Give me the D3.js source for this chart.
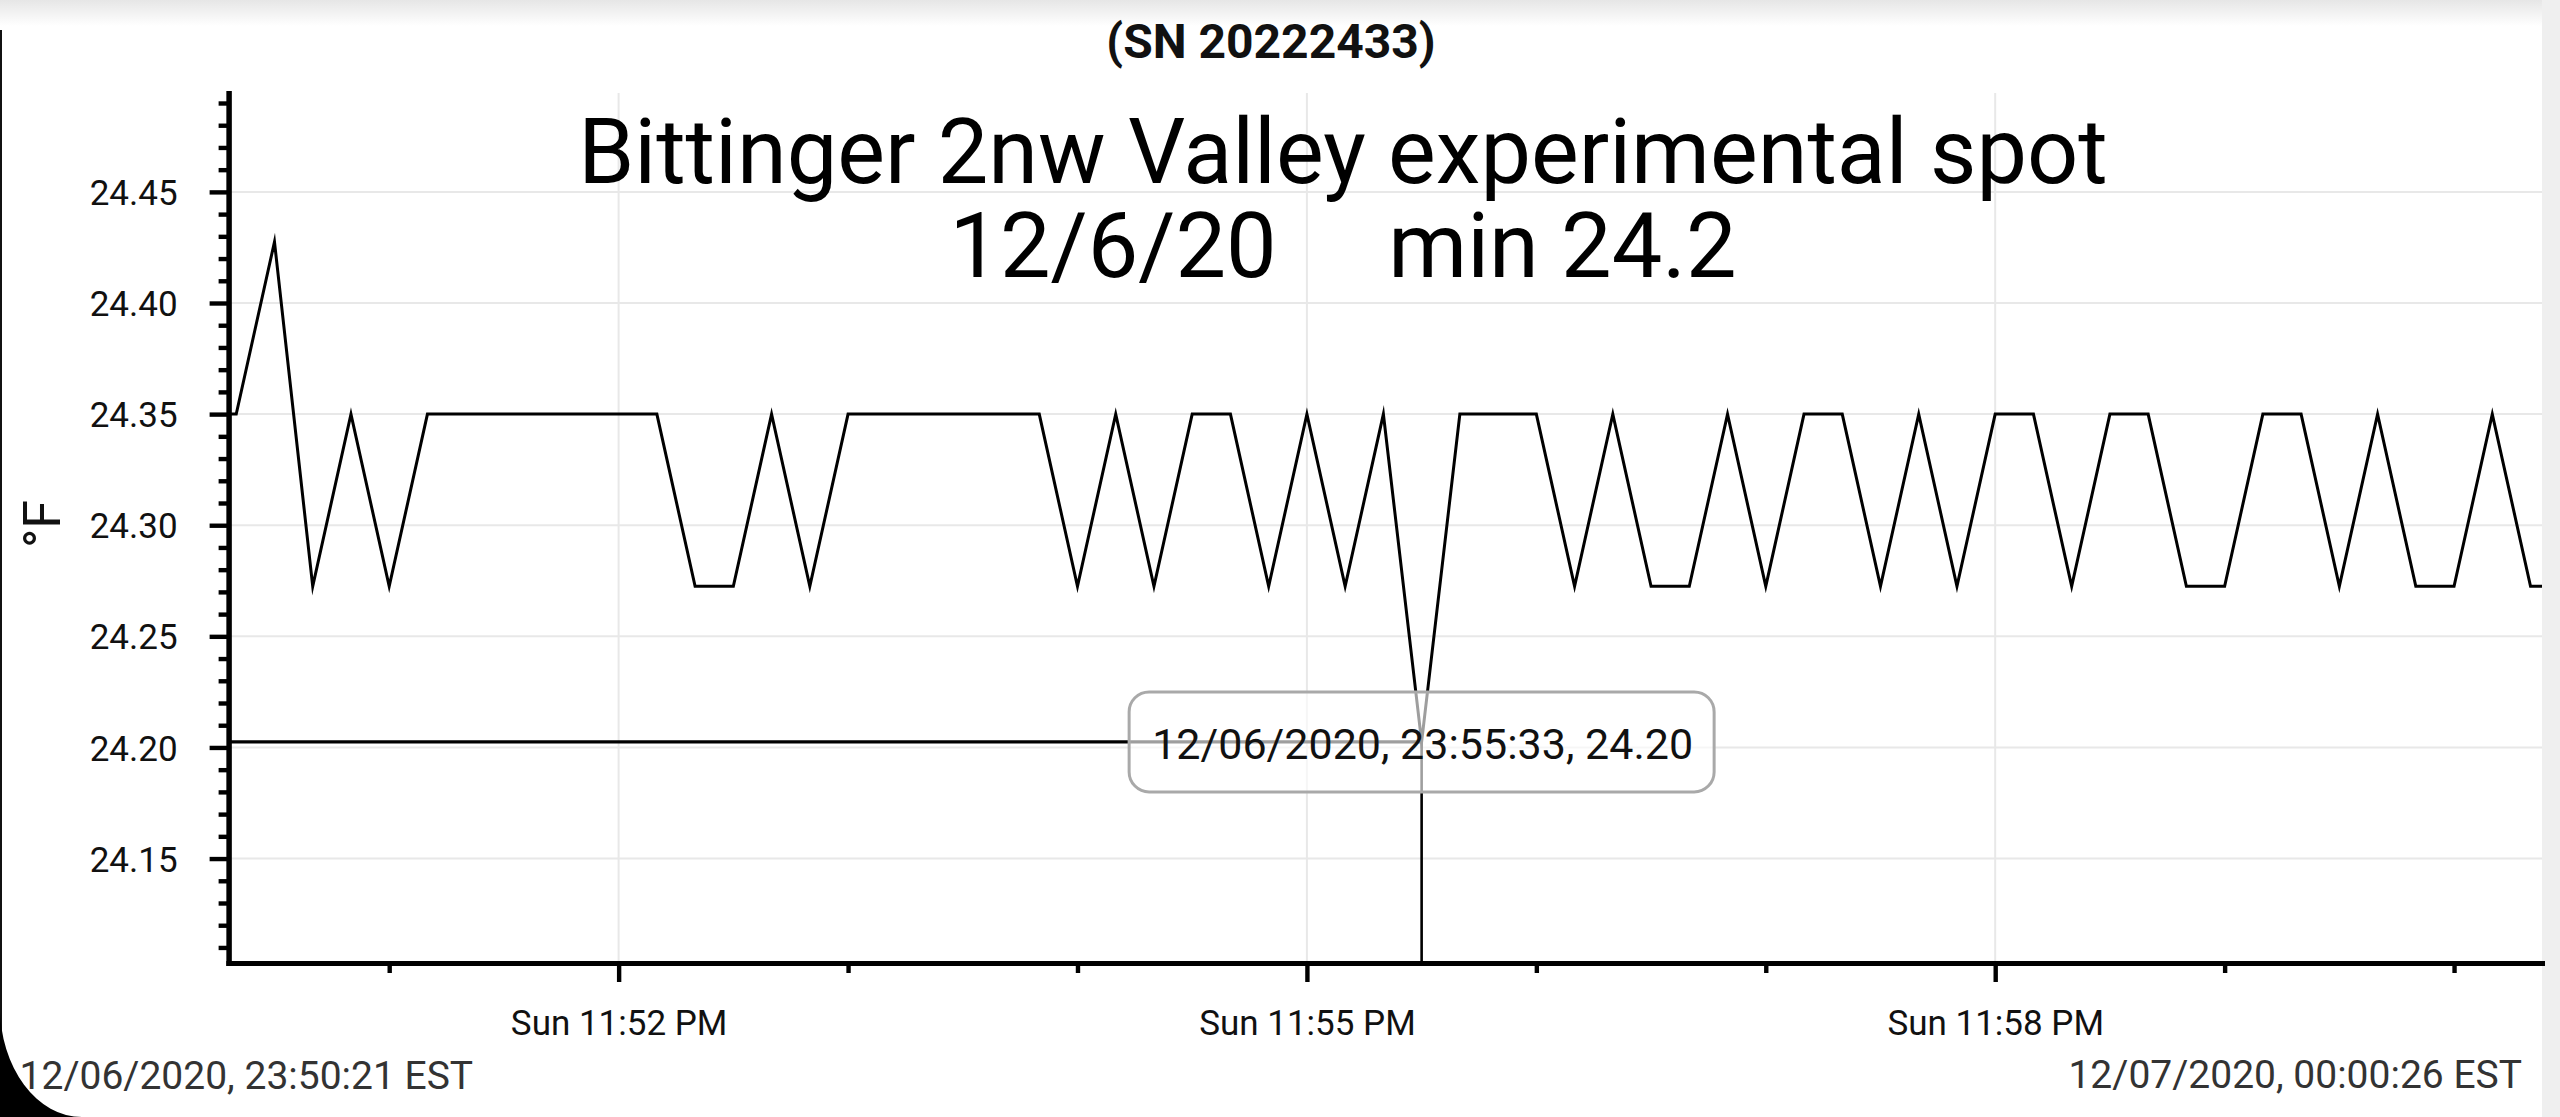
<!DOCTYPE html>
<html>
<head>
<meta charset="utf-8">
<script src="https://cdn.jsdelivr.net/npm/d3@7"></script>
<style>
  body { margin: 0; background: #fff; overflow: hidden; }
  text { font-family: Roboto, "Noto Sans", sans-serif; }
</style>
</head>
<body>
<svg id="chart" width="2560" height="1117"></svg>
<script>
// ---------------- data ----------------
const sampleTimes = [
  "23:50:18","23:50:20","23:50:30","23:50:40","23:50:50","23:51:00","23:51:10","23:51:20","23:51:30","23:51:40",
  "23:51:50","23:52:00","23:52:10","23:52:20","23:52:30","23:52:40","23:52:50","23:53:00","23:53:10","23:53:20",
  "23:53:30","23:53:40","23:53:50","23:54:00","23:54:10","23:54:20","23:54:30","23:54:40","23:54:50","23:55:00",
  "23:55:10","23:55:20","23:55:30","23:55:40","23:55:50","23:56:00","23:56:10","23:56:20","23:56:30","23:56:40",
  "23:56:50","23:57:00","23:57:10","23:57:20","23:57:30","23:57:40","23:57:50","23:58:00","23:58:10","23:58:20",
  "23:58:30","23:58:40","23:58:50","23:59:00","23:59:10","23:59:20","23:59:30","23:59:40","23:59:50","00:00:00",
  "00:00:10","00:00:20","00:00:23"
];
const temperaturesF = [
  24.35, 24.35, 24.4275, 24.2725, 24.35, 24.2725, 24.35, 24.35, 24.35, 24.35,
  24.35, 24.35, 24.35, 24.2725, 24.2725, 24.35, 24.2725, 24.35, 24.35, 24.35,
  24.35, 24.35, 24.35, 24.2725, 24.35, 24.2725, 24.35, 24.35, 24.2725, 24.35,
  24.2725, 24.35, 24.2025, 24.35, 24.35, 24.35, 24.2725, 24.35, 24.2725, 24.2725,
  24.35, 24.2725, 24.35, 24.35, 24.2725, 24.35, 24.2725, 24.35, 24.35, 24.2725,
  24.35, 24.35, 24.2725, 24.2725, 24.35, 24.35, 24.2725, 24.35, 24.2725, 24.2725,
  24.35, 24.2725, 24.2725
];
const yMajorTicks = [24.15, 24.20, 24.25, 24.30, 24.35, 24.40, 24.45];
const xMajorTickTimes = ["23:52:00", "23:55:00", "23:58:00"];
const yDomain = [24.103, 24.4945];
const highlightIndex = 32;
const tooltipText = "12/06/2020, 23:55:33, 24.20";
const serialText = "(SN 20222433)";
const titleLines = ["Bittinger 2nw Valley experimental spot", "12/6/20     min 24.2"];
const yAxisLabel = "°F";
const footerLeft = "12/06/2020, 23:50:21 EST";
const footerRight = "12/07/2020, 00:00:26 EST";

// ---------------- helpers ----------------
function parseT(s) {
  const [h, m, sec] = s.split(":").map(Number);
  return new Date(2020, 11, h < 12 ? 7 : 6, h, m, sec);
}
const data = sampleTimes.map((t, i) => ({ t: parseT(t), v: temperaturesF[i] }));

const W = 2560, H = 1117;
const plot = { left: 228.6, right: 2542, top: 93, bottom: 963 };

const svg = d3.select("#chart");

// background pieces (screenshot frame)
const defs = svg.append("defs");
const grad = defs.append("linearGradient").attr("id", "topShade")
  .attr("x1", 0).attr("y1", 0).attr("x2", 0).attr("y2", 1);
grad.append("stop").attr("offset", "0%").attr("stop-color", "#e6e6e6");
grad.append("stop").attr("offset", "100%").attr("stop-color", "#ffffff");
svg.append("rect").attr("x", 0).attr("y", 0).attr("width", W).attr("height", H).attr("fill", "#fff");
svg.append("rect").attr("x", 0).attr("y", 0).attr("width", 2542).attr("height", 26).attr("fill", "url(#topShade)");
svg.append("rect").attr("x", 2542).attr("y", 0).attr("width", 18).attr("height", H).attr("fill", "#efefef");
svg.append("rect").attr("x", 0).attr("y", 30).attr("width", 2).attr("height", H - 30).attr("fill", "#111");
svg.append("path").attr("d", `M0,${H - 110} A82,110 0 0 0 82,${H} L0,${H} Z`).attr("fill", "#000");

// scales
const x = d3.scaleTime().domain(d3.extent(data, d => d.t)).range([plot.left, plot.right]);
const y = d3.scaleLinear().domain(yDomain).range([plot.bottom, plot.top]);

const xMajor = xMajorTickTimes.map(s => parseT(s));
const xMinor = x.ticks(d3.timeMinute.every(1)).filter(d => !xMajor.some(m => +m === +d));
const yMinor = y.ticks(40).filter(v => !yMajorTicks.some(m => Math.abs(m - v) < 1e-6));

// gridlines
const grid = svg.append("g").attr("stroke", "#e8e8e8").attr("stroke-width", 2);
grid.selectAll("line.h").data(yMajorTicks).join("line")
  .attr("x1", plot.left).attr("x2", plot.right)
  .attr("y1", d => y(d)).attr("y2", d => y(d));
grid.selectAll("line.v").data(xMajor).join("line")
  .attr("x1", d => x(d)).attr("x2", d => x(d))
  .attr("y1", plot.top).attr("y2", plot.bottom);

// titles
svg.append("text").attr("x", 1271).attr("y", 58).attr("text-anchor", "middle")
  .attr("font-size", 48).attr("font-weight", "bold").attr("fill", "#111").text(serialText);
const title = svg.append("text").attr("text-anchor", "middle").attr("font-size", 90).attr("fill", "#000")
  .attr("xml:space", "preserve").style("white-space", "pre");
title.selectAll("tspan").data(titleLines).join("tspan")
  .attr("x", 1343).attr("y", (d, i) => 182.7 + i * 94)
  .text(d => d);

// data line
const line = d3.line().x(d => x(d.t)).y(d => y(d.v));
svg.append("path").datum(data)
  .attr("fill", "none").attr("stroke", "#000").attr("stroke-width", 3)
  .attr("stroke-linejoin", "miter").attr("stroke-miterlimit", 10)
  .attr("d", line);

// crosshair at the minimum
const hp = data[highlightIndex];
const hx = x(hp.t), hy = y(hp.v);
svg.append("line").attr("x1", plot.left).attr("x2", hx).attr("y1", hy).attr("y2", hy)
  .attr("stroke", "#000").attr("stroke-width", 3.2);
svg.append("line").attr("x1", hx).attr("x2", hx).attr("y1", hy).attr("y2", plot.bottom)
  .attr("stroke", "#000").attr("stroke-width", 2.6);

// tooltip
const tipW = 585, tipH = 100;
svg.append("rect").attr("x", hx - tipW / 2).attr("y", hy - tipH / 2)
  .attr("width", tipW).attr("height", tipH).attr("rx", 20).attr("ry", 20)
  .attr("fill", "rgba(255,255,255,0.62)").attr("stroke", "#a9a9a9").attr("stroke-width", 3);
svg.append("text").attr("x", hx + 1).attr("y", hy + 17.5).attr("text-anchor", "middle")
  .attr("font-size", 43).attr("fill", "#111").text(tooltipText);

// axes
const fmtY = d3.format(".2f");
const yAxisMajor = svg.append("g").attr("transform", `translate(${plot.left},0)`)
  .call(d3.axisLeft(y).tickValues(yMajorTicks).tickFormat(fmtY).tickSize(19).tickSizeOuter(0).tickPadding(32));
const yAxisMinor = svg.append("g").attr("transform", `translate(${plot.left},0)`)
  .call(d3.axisLeft(y).tickValues(yMinor).tickFormat("").tickSize(10).tickSizeOuter(0));
const xAxisMajor = svg.append("g").attr("transform", `translate(0,${plot.bottom})`)
  .call(d3.axisBottom(x).tickValues(xMajor).tickFormat(d3.timeFormat("%a %-I:%M %p")).tickSize(19).tickSizeOuter(0).tickPadding(28));
const xAxisMinor = svg.append("g").attr("transform", `translate(0,${plot.bottom})`)
  .call(d3.axisBottom(x).tickValues(xMinor).tickFormat("").tickSize(10).tickSizeOuter(0));

[yAxisMajor, yAxisMinor, xAxisMajor, xAxisMinor].forEach(g => {
  g.selectAll("path.domain").attr("stroke", "#000").attr("stroke-width", 5).attr("stroke-linecap", "square");
  g.selectAll(".tick line").attr("stroke", "#000").attr("stroke-width", 4.4);
  g.selectAll(".tick text").attr("font-size", 35).attr("fill", "#111")
    .attr("font-family", "Roboto, 'Noto Sans', sans-serif");
});
yAxisMajor.selectAll(".tick text").attr("dy", "0.36em");

// y axis label
svg.append("text").attr("transform", "translate(41,524) rotate(-90)")
  .attr("text-anchor", "middle").attr("dy", "0.36em")
  .attr("font-size", 52).attr("fill", "#111").text(yAxisLabel);

// footer
svg.append("text").attr("x", 19.6).attr("y", 1089).attr("font-size", 39).attr("fill", "#333").text(footerLeft);
svg.append("text").attr("x", 2522).attr("y", 1088).attr("text-anchor", "end").attr("font-size", 39).attr("fill", "#333").text(footerRight);
</script>
</body>
</html>
